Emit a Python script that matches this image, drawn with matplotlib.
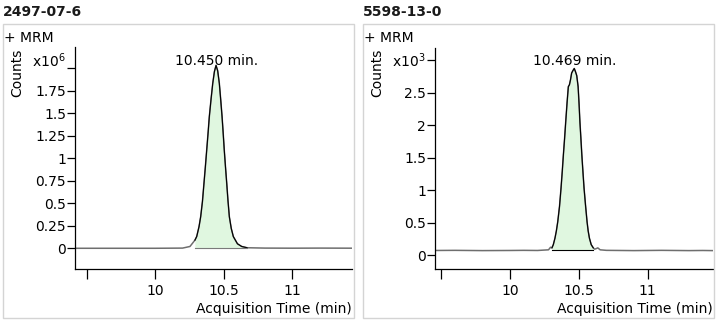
#!/usr/bin/env python3

import numpy as np
import matplotlib
matplotlib.use( 'Agg' )
import matplotlib.pyplot as plt
from matplotlib.patches import Rectangle

W, H = 722, 323

# ---- data ----
titles = [ '2497-07-6', '5598-13-0' ]
exponents = [ 6, 3 ]
rt_labels = [ '10.450 min.', '10.469 min.' ]

# left: counts x10^6
time_1 = [ 9.416, 9.7, 10.0, 10.2, 10.254, 10.29, 10.303, 10.32, 10.332, 10.345,
           10.356, 10.366, 10.376, 10.386, 10.395, 10.408, 10.42, 10.432, 10.444,
           10.456, 10.468, 10.478, 10.488, 10.496, 10.504, 10.513, 10.522, 10.531,
           10.541, 10.555, 10.57, 10.6, 10.631, 10.67, 10.8, 11.0, 11.2, 11.435 ]
counts_1 = [ 0.0, 0.0, 0.0, 0.002, 0.02, 0.09, 0.13, 0.24, 0.35, 0.52,
             0.72, 0.90, 1.09, 1.28, 1.46, 1.66, 1.83, 1.96, 2.03,
             1.97, 1.83, 1.65, 1.46, 1.28, 1.09, 0.90, 0.72, 0.53,
             0.35, 0.22, 0.13, 0.05, 0.02, 0.006, 0.002, 0.001, 0.002, 0.001 ]

# right: counts x10^3
time_2 = [ 9.456, 9.6, 9.8, 10.0, 10.1, 10.2, 10.28, 10.295, 10.305, 10.315, 10.327,
           10.337, 10.347, 10.36, 10.371, 10.38, 10.388, 10.397, 10.405, 10.415,
           10.424, 10.432, 10.44, 10.448, 10.458, 10.467, 10.476, 10.485, 10.495,
           10.502, 10.508, 10.515, 10.522, 10.53, 10.538, 10.549, 10.56, 10.568,
           10.577, 10.59, 10.605, 10.615, 10.628, 10.638, 10.655, 10.7, 10.8,
           10.9, 11.0, 11.1, 11.2, 11.3, 11.4, 11.472 ]
counts_2 = [ 0.07, 0.072, 0.068, 0.07, 0.072, 0.07, 0.08, 0.12, 0.11, 0.16, 0.26,
             0.37, 0.51, 0.75, 1.03, 1.29, 1.54, 1.80, 2.05, 2.35,
             2.59, 2.62, 2.70, 2.80, 2.84, 2.87, 2.82, 2.76, 2.59,
             2.32, 2.05, 1.80, 1.54, 1.28, 1.03, 0.76, 0.51, 0.37,
             0.26, 0.16, 0.11, 0.09, 0.10, 0.11, 0.08, 0.072, 0.07,
             0.068, 0.07, 0.072, 0.07, 0.068, 0.07, 0.068 ]

# integration window and baseline of each peak
peak_start = [ 10.29, 10.305 ]
peak_end = [ 10.67, 10.605 ]
peak_base = [ 0.0, 0.077 ]
base_color = [ '#7a7a7a', 'k' ]

y_ticks_1 = [ 0, 0.25, 0.5, 0.75, 1, 1.25, 1.5, 1.75, 2 ]
y_labels_1 = [ '0', '0.25', '0.5', '0.75', '1', '1.25', '1.5', '1.75', '' ]
y_ticks_2 = [ 0, 0.5, 1, 1.5, 2, 2.5, 3 ]
y_labels_2 = [ '0', '0.5', '1', '1.5', '2', '2.5', '' ]
x_ticks = [ 9.5, 10, 10.5, 11 ]
x_labels = [ '', '10', '10.5', '11' ]


def fx( x ):
    return x / W

def fy( y ):
    return 1 - y / H

def px_rect( l, t, r, b ):
    return [ l / W, 1 - b / H, ( r - l ) / W, ( b - t ) / H ]


def draw_panel( fig, i, rect, xlim, ylim, t, c, yt, yl, off, rt_x ):
    ax = fig.add_axes( rect )
    t = np.array( t )
    c = np.array( c )

    ax.plot( t, c, color='#6e6e6e', lw=1.1, zorder=2 )

    m = ( t >= peak_start[i] ) & ( t <= peak_end[i] )
    ax.fill_between( t[m], peak_base[i], c[m], color='#e0f7e0', lw=0, zorder=1 )
    ax.plot( t[m], c[m], color='k', lw=0.8, zorder=3 )
    ax.plot( [ peak_start[i], peak_end[i] ], [ peak_base[i], peak_base[i] ],
             color=base_color[i], lw=0.8, zorder=3 )

    ax.set_xlim( xlim )
    ax.set_ylim( ylim )
    ax.set_xticks( x_ticks )
    ax.set_xticklabels( x_labels )
    ax.set_yticks( yt )
    ax.set_yticklabels( yl )

    for s in [ 'top', 'right' ]:
        ax.spines[s].set_visible( False )
    for s in [ 'left', 'bottom' ]:
        ax.spines[s].set_linewidth( 0.9 )
    ax.tick_params( axis='x', length=7, width=0.9, pad=4, labelsize=10 )
    ax.tick_params( axis='y', length=5.5, width=0.9, pad=1, labelsize=10 )
    ax.patch.set_alpha( 0 )

    # panel frame and texts
    fig.add_artist( Rectangle( ( fx( off + 3 ), fy( 318 ) ), 351 / W, 294 / H,
                               transform=fig.transFigure, fill=False,
                               ec='#d4d4d4', lw=1.0 ) )
    fig.text( fx( off + 3 ), fy( 16 ), titles[i], fontsize=10, fontweight='bold',
              color='#1a1a1a', va='baseline', ha='left' )
    fig.text( fx( off + 4 ), fy( 41.5 ), '+ MRM', fontsize=10, va='baseline', ha='left' )
    fig.text( fx( off + 17.5 ), fy( 73 ), 'Counts', fontsize=10, rotation=90,
              va='center', ha='center' )
    fig.text( fx( off + 32 ), fy( 67 ), 'x10$^{%d}$' % exponents[i], fontsize=10,
              va='baseline', ha='left' )
    fig.text( fx( rt_x ), fy( 65 ), rt_labels[i], fontsize=10,
              va='baseline', ha='center' )
    fig.text( fx( rect[0] * W + rect[2] * W ), fy( 313 ), 'Acquisition Time (min)',
              fontsize=10, va='baseline', ha='right' )
    return ax


def main():
    plt.rcParams['font.family'] = [ 'DejaVu Sans' ]
    plt.rcParams['mathtext.fontset'] = 'dejavusans'

    fig = plt.figure( figsize=( W / 100, H / 100 ), dpi=100 )
    fig.set_facecolor( 'w' )

    draw_panel( fig, 0, px_rect( 75, 47, 352, 269 ), ( 9.416, 11.435 ), ( -0.23, 2.234 ),
                time_1, counts_1, y_ticks_1, y_labels_1, 0, 216.5 )
    draw_panel( fig, 1, px_rect( 435, 48, 712.7, 269 ), ( 9.456, 11.472 ), ( -0.215, 3.185 ),
                time_2, counts_2, y_ticks_2, y_labels_2, 360, 574.5 )

    fig.savefig( 'out.png', dpi=100 )


if __name__ == '__main__':
    main()
